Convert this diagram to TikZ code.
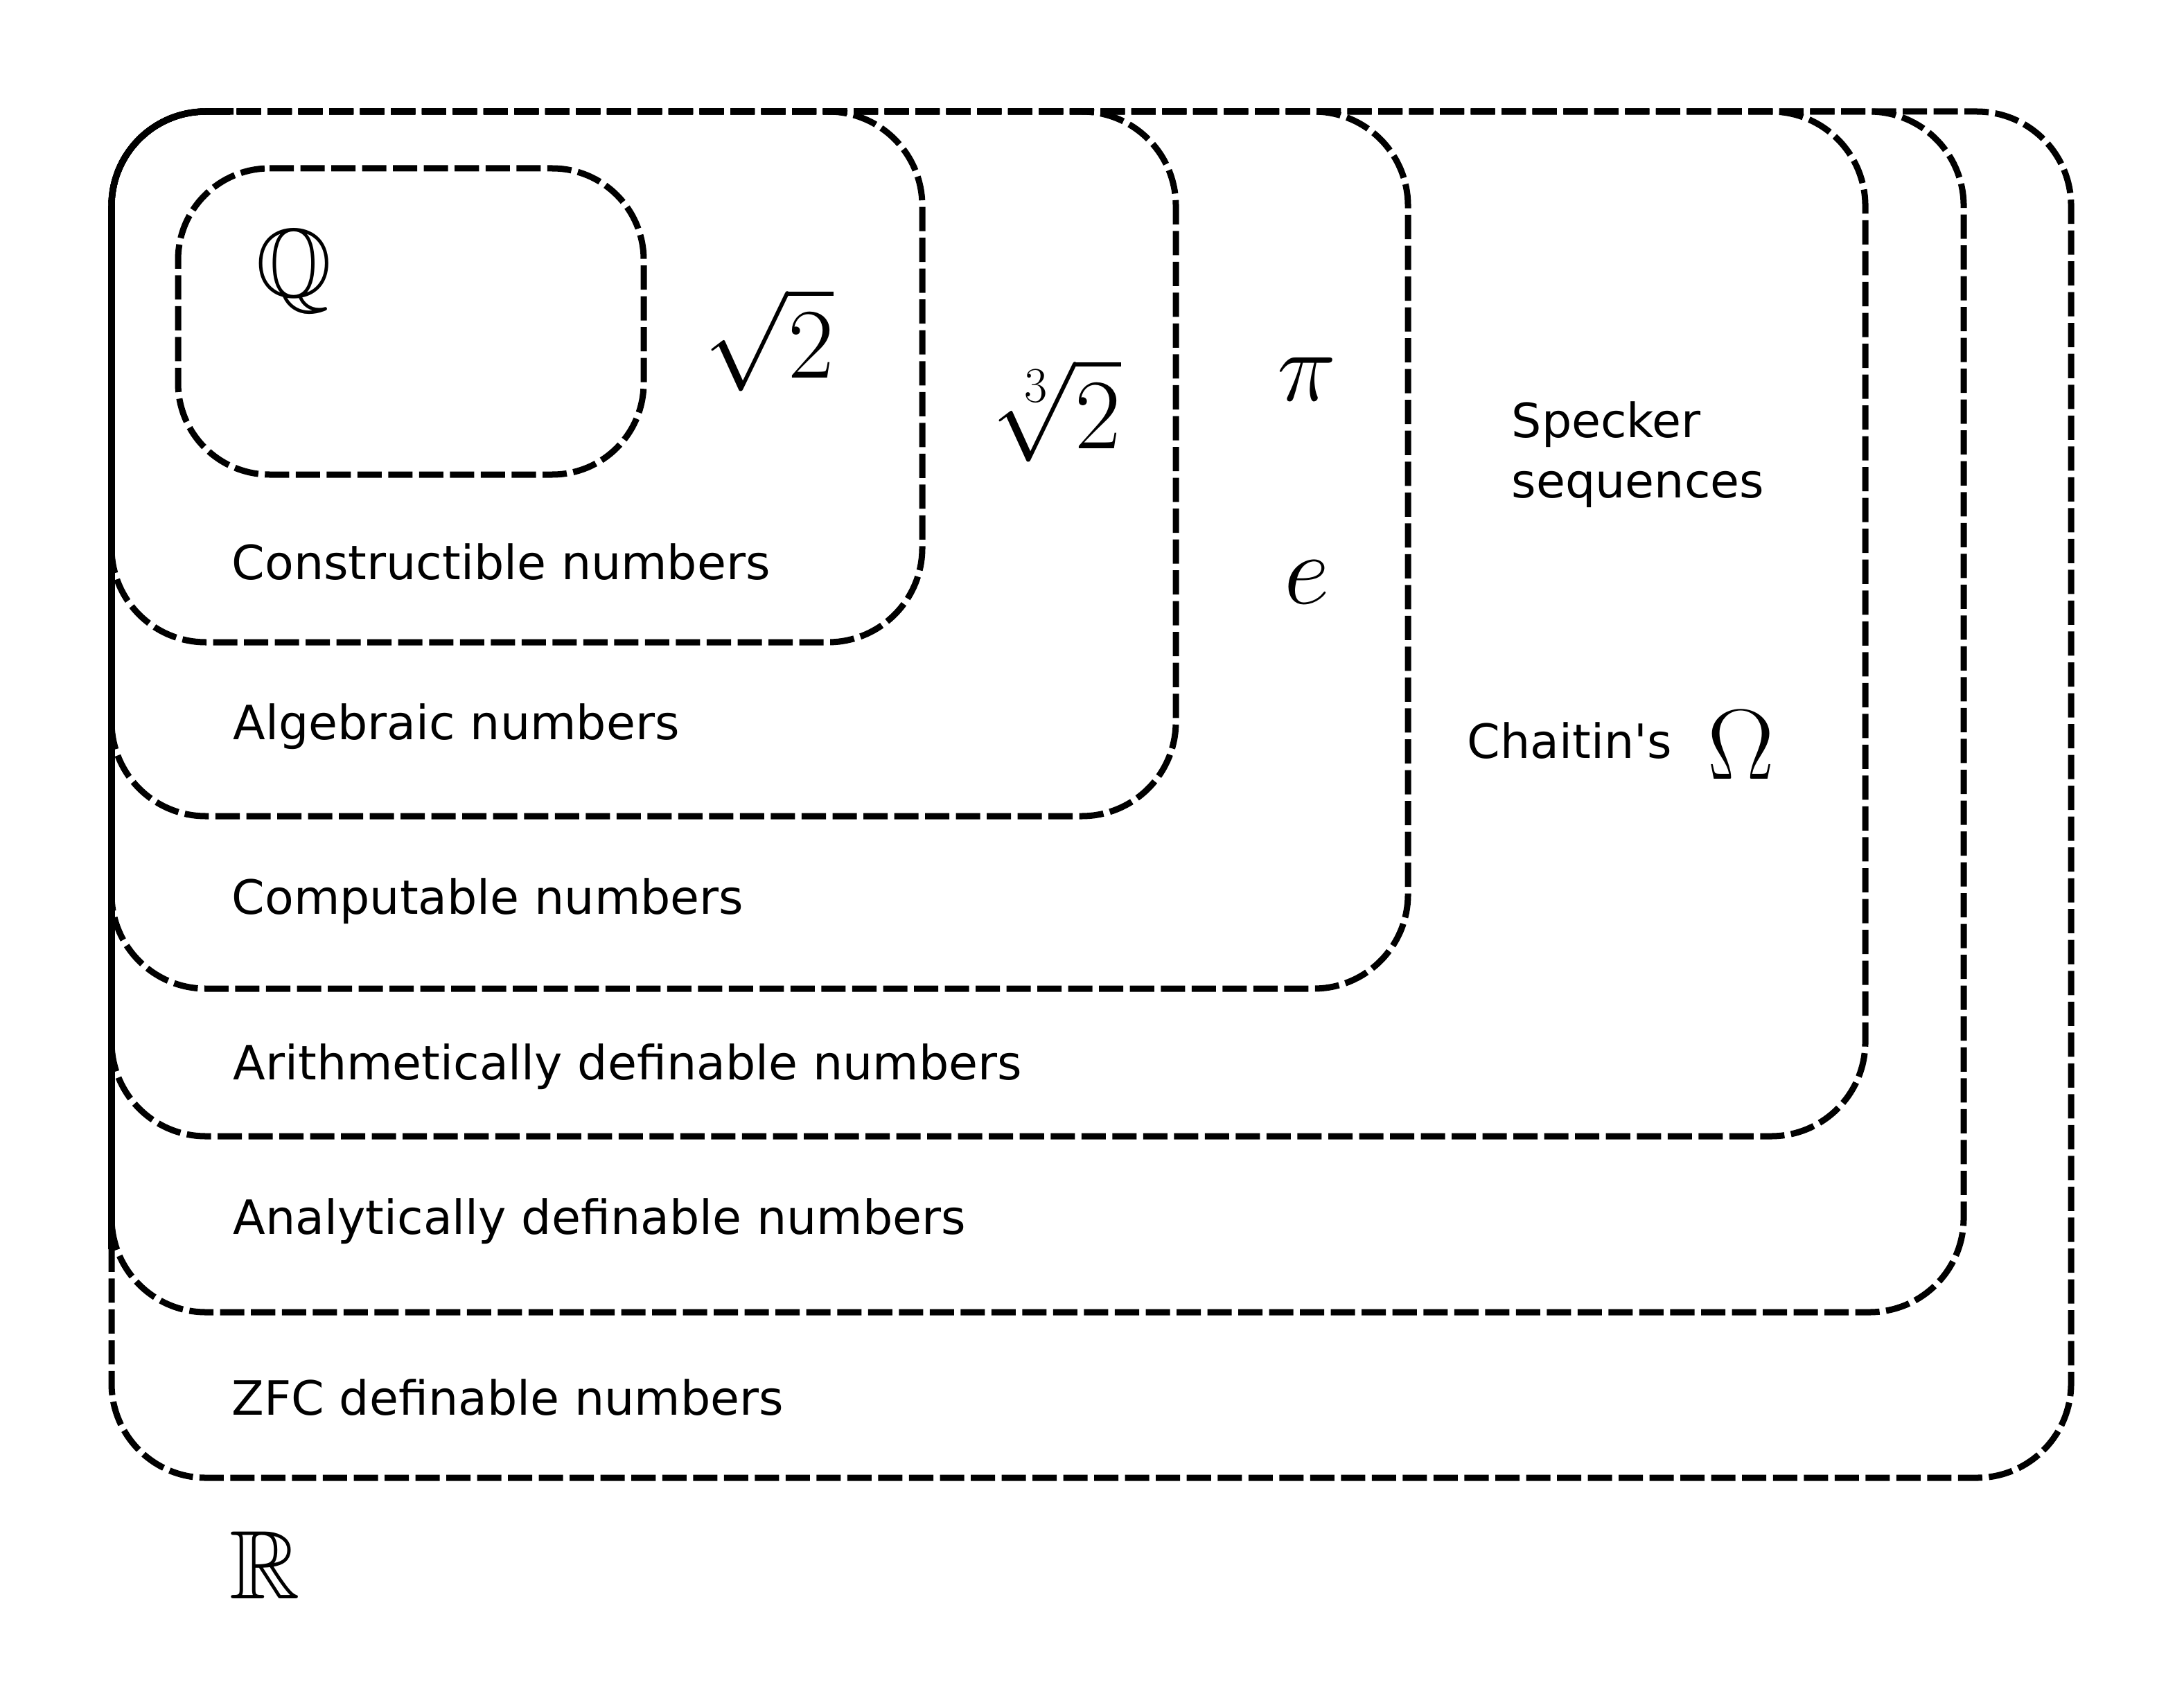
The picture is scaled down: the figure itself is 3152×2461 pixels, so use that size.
\RequirePackage{fix-cm}
\documentclass[tikz,border=0pt]{standalone}
\usepackage{amssymb}
\usepackage{fontspec}
\setmainfont{DejaVu Sans}[Ligatures=TeXOff]
\tikzset{
  setbox/.style={draw=black, line width=0.09cm, dash pattern=on 0.35cm off 0.095cm, rounded corners=1.36cm},
  lbl/.style={anchor=base west, inner sep=0pt, font=\fontsize{19.4}{24}\selectfont},
  mth/.style={anchor=center, inner sep=0pt, font=\fontsize{41}{48}\selectfont},
  bbl/.style={anchor=center, inner sep=0pt, font=\fontsize{40}{48}\selectfont},
}
\newcommand{\setrect}[2]{\draw[setbox] (161,161) -- (#1,161) -- (#1,#2) -- (161,#2) -- cycle;}
\begin{document}
\begin{tikzpicture}[x=0.01cm, y=-0.01cm]
\useasboundingbox (0,0) rectangle (3152,2461);
% nested sets
\setrect{2989}{2133}
\setrect{2834}{1894}
\setrect{2692}{1640}
\setrect{2032}{1427}
\setrect{1697}{1178}
\setrect{1331}{927}
\draw[setbox, rounded corners=1.32cm] (257,243) -- (929,243) -- (929,685) -- (257,685) -- cycle;
% solid shared left edge
\coordinate (sb) at (161,1803);
\coordinate (sc) at (161,161);
\coordinate (se) at (337,161);
\draw[line width=0.095cm, rounded corners=1.36cm] (sb) -- (sc) -- (se);
% labels
\node[bbl] (Q) at (424,392) {$\mathbb{Q}$};
\node[mth] (sqrt2) at (1110,490) {$\sqrt{2}$};
\node[mth] (cbrt2) at (1528,592) {$\sqrt[3]{2}$};
\node[mth] (pi) at (1886,547) {$\pi$};
\node[mth] (e) at (1886,840) {$e$};
\node[mth] (Om) at (2513,1075) {$\Omega$};
\node[bbl] (R) at (382,2259) {$\mathbb{R}$};
\node[lbl] (spk1) at (2181,631) {Specker};
\node[lbl] (spk2) at (2181,718) {sequences};
\node[lbl] (cha) at (2117,1094) {Chaitin's};
\node[lbl] (con) at (334,836) {Constructible numbers};
\node[lbl] (alg) at (336,1067) {Algebraic numbers};
\node[lbl] (com) at (334,1319) {Computable numbers};
\node[lbl] (ari) at (336,1558) {Arithmetically definable numbers};
\node[lbl] (ana) at (336,1781) {Analytically definable numbers};
\node[lbl] (zfc) at (334,2042) {ZFC definable numbers};
\end{tikzpicture}
\end{document}
